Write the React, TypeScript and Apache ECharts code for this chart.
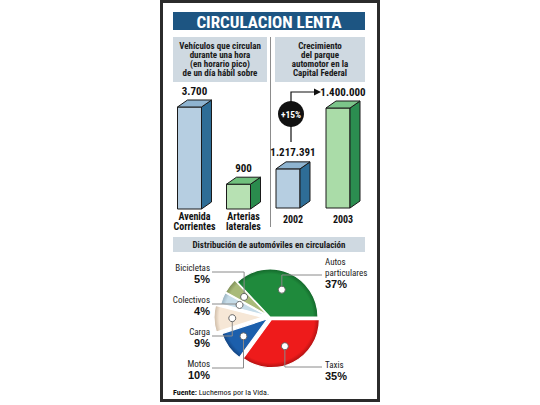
import React, { useEffect, useRef } from "react";
import * as echarts from "echarts";

// ---------- data ----------
const TITLE = "CIRCULACION LENTA";
const leftSubtitle = ["Vehículos que circulan", "durante una hora", "(en horario pico)", "de un día hábil sobre"];
const rightSubtitle = ["Crecimiento", "del parque", "automotor en la", "Capital Federal"];
const streetCategories = ["Avenida\nCorrientes", "Arterias\nlaterales"];
const streetValues = [3700, 900];
const yearCategories = ["2002", "2003"];
const fleetValues = [1217391, 1400000];
const pieTitle = "Distribución de automóviles en circulación";
const pieNames = ["Taxis", "Motos", "Carga", "Colectivos", "Bicicletas", "Autos particulares"];
const pieValues = [35, 10, 9, 4, 5, 37];
const sourceLabel = "Fuente:";
const sourceText = " Luchemos por la Vida.";

// ---------- styles ----------
const NARROW = "'Liberation Sans Narrow', 'Arial Narrow', 'Roboto Condensed', 'Liberation Sans', sans-serif";
const BLUE = { front: "#b6cee1", side: "#2e6d96", top: "#8fb4d0" };
const GREEN_L = { front: "#b7e1b3", side: "#2a8b4d", top: "#70c07d" };
const GREEN_R = { front: "#aadca8", side: "#2b8d50", top: "#7cc58a" };
const pieColors = ["#ee1b1b", "#1c5fac", "#f6e7d6", "#c6dce8", "#a9ba79", "#1f8a3c"];
const pieDark = ["#8a0c0c", "#0c3163", "#b39f88", "#7b95a6", "#627140", "#0d5120"];
const explode = [3, 3, 8, 3, 3, 0];
const PIE_C = [270, 317];
const PIE_R = 48;

const fmt = (n: number) => String(Math.round(n)).replace(/\B(?=(\d{3})+(?!\d))/g, ".");

function bar3d(palettes: any[], yMin: number) {
  return (params: any, api: any) => {
    const idx = api.value(0);
    const val = api.value(1);
    const top = api.coord([idx, val]);
    const base = api.coord([idx, yMin]);
    const bw = 24, d = 10, dy = 7;
    const x0 = top[0] - (bw + d) / 2;
    const x1 = x0 + bw;
    const yt = top[1], yb = base[1];
    const p = palettes[idx];
    const stroke = { stroke: "#1a1a1a", lineWidth: 1 };
    return {
      type: "group",
      children: [
        { type: "rect", shape: { x: x0, y: yt, width: bw, height: yb - yt }, style: { fill: p.front, ...stroke } },
        { type: "polygon", shape: { points: [[x1, yt], [x1 + d, yt - dy], [x1 + d, yb - dy], [x1, yb]] }, style: { fill: p.side, ...stroke } },
        { type: "polygon", shape: { points: [[x0, yt], [x0 + d, yt - dy], [x1 + d, yt - dy], [x1, yt]] }, style: { fill: p.top, ...stroke } },
        {
          type: "text",
          style: {
            text: fmt(val), x: x0 + (bw + d) / 2, y: yt - dy - 9, align: "center", verticalAlign: "middle",
            fontFamily: NARROW, fontWeight: "bold", fontSize: 11, fill: "#111",
          },
        },
      ],
    };
  };
}

export default function App() {
  const ref = useRef<HTMLDivElement>(null);
  useEffect(() => {
    document.body.style.margin = "0";
    const chart = echarts.init(ref.current!, null, { renderer: "svg" });
    const total = pieValues.reduce((a, b) => a + b, 0);
    const [cx, cy] = PIE_C;

    // leader geometry computed from data
    let start = 0;
    const items = pieValues.map((v, i) => {
      const span = (v / total) * 360;
      const mid = ((start + span / 2) * Math.PI) / 180;
      start += span;
      const ux = Math.cos(mid), uy = Math.sin(mid);
      const rr = explode[i] + PIE_R * 0.62;
      return { i, ux, uy, dx: cx + ux * rr, dy: cy + uy * rr };
    });
    const left = items.filter((it) => it.ux < 0).sort((a, b) => a.dy - b.dy);
    const right = items.filter((it) => it.ux >= 0).sort((a, b) => a.dy - b.dy);
    const g: any[] = [];
    const lineStyle = { stroke: "#8a8a8a", lineWidth: 1, fill: "none" };
    left.forEach((it, k) => {
      const ny = 268 + 32 * k;
      const ey = ny + 4;
      g.push({ type: "polyline", z: 100, shape: { points: [[212, ey], [it.dx, ey], [it.dx, it.dy]] }, style: lineStyle });
      g.push({ type: "circle", z: 101, shape: { cx: it.dx, cy: it.dy, r: 3.5 }, style: { fill: "#fff", stroke: "#666", lineWidth: 1 } });
      g.push({ type: "text", z: 100, style: { text: pieNames[it.i], x: 210, y: ny, align: "right", verticalAlign: "middle", fontFamily: NARROW, fontSize: 9, fill: "#222" } });
      g.push({ type: "text", z: 100, style: { text: pieValues[it.i] + "%", x: 210, y: ny + 11, align: "right", verticalAlign: "middle", fontFamily: "'Liberation Sans', sans-serif", fontWeight: "bold", fontSize: 11, fill: "#111" } });
    });
    const rightNameY = [262, 365];
    right.forEach((it, k) => {
      const ny = rightNameY[k];
      const name = pieNames[it.i];
      const lines = name.length > 10 ? name.split(" ") : [name];
      const lastY = ny + (lines.length - 1) * 11;
      const ey = lastY + 2;
      g.push({ type: "polyline", z: 100, shape: { points: [[it.dx, it.dy], [it.dx, ey], [322, ey]] }, style: lineStyle });
      g.push({ type: "circle", z: 101, shape: { cx: it.dx, cy: it.dy, r: 3.5 }, style: { fill: "#fff", stroke: "#666", lineWidth: 1 } });
      lines.forEach((ln, j) => {
        g.push({ type: "text", z: 100, style: { text: ln, x: 325, y: ny + j * 11, align: "left", verticalAlign: "middle", fontFamily: NARROW, fontSize: 9, fill: "#222" } });
      });
      g.push({ type: "text", z: 100, style: { text: pieValues[it.i] + "%", x: 325, y: lastY + 11, align: "left", verticalAlign: "middle", fontFamily: "'Liberation Sans', sans-serif", fontWeight: "bold", fontSize: 11, fill: "#111" } });
    });

    const growth = Math.round((fleetValues[1] / fleetValues[0] - 1) * 100);

    const pieColor = (i: number) => ({
      type: "radial", x: cx, y: cy, r: PIE_R + 3, global: true,
      colorStops: [{ offset: 0, color: pieColors[i] }, { offset: 0.84, color: pieColors[i] }, { offset: 1, color: pieDark[i] }],
    });

    const boxFill = "#cfd9e1";
    const graphic: any[] = [
      { type: "rect", z: 0, shape: { x: 161.5, y: 1.5, width: 217, height: 399 }, style: { fill: "none", stroke: "#2b2b2b", lineWidth: 3 } },
      { type: "rect", z: 0, shape: { x: 173, y: 12, width: 192, height: 18 }, style: { fill: "#1d5582" } },
      { type: "text", z: 1, style: { text: TITLE, x: 269, y: 21.5, align: "center", verticalAlign: "middle", fontFamily: NARROW, fontWeight: "bold", fontSize: 17, fill: "#fff" } },
      { type: "rect", z: 0, shape: { x: 173, y: 37, width: 94, height: 45 }, style: { fill: boxFill } },
      { type: "rect", z: 0, shape: { x: 275, y: 37, width: 90, height: 45 }, style: { fill: boxFill } },
      { type: "line", z: 0, shape: { x1: 270.5, y1: 37, x2: 270.5, y2: 227 }, style: { stroke: "#8c8c8c", lineWidth: 1 } },
      { type: "text", z: 1, style: { text: leftSubtitle.join("\n"), x: 220, y: 41.5, align: "center", verticalAlign: "top", lineHeight: 9, fontFamily: NARROW, fontWeight: "bold", fontSize: 9, fill: "#1a1a1a" } },
      { type: "text", z: 1, style: { text: rightSubtitle.join("\n"), x: 320, y: 41.5, align: "center", verticalAlign: "top", lineHeight: 9, fontFamily: NARROW, fontWeight: "bold", fontSize: 9, fill: "#1a1a1a" } },
      { type: "rect", z: 0, shape: { x: 173, y: 237, width: 192, height: 15 }, style: { fill: boxFill } },
      { type: "text", z: 1, style: { text: pieTitle, x: 269, y: 244.5, align: "center", verticalAlign: "middle", fontFamily: NARROW, fontWeight: "bold", fontSize: 9, fill: "#1a1a1a" } },
      // growth annotation
      { type: "polyline", z: 5, shape: { points: [[291, 142], [291, 92], [316, 92]] }, style: { stroke: "#111", lineWidth: 1.2, fill: "none" } },
      { type: "polygon", z: 5, shape: { points: [[314, 88.5], [321, 92], [314, 95.5]] }, style: { fill: "#111" } },
      { type: "circle", z: 6, shape: { cx: 291, cy: 114, r: 13 }, style: { fill: "#111" } },
      { type: "text", z: 7, style: { text: "+" + growth + "%", x: 291, y: 114, align: "center", verticalAlign: "middle", fontFamily: NARROW, fontWeight: "bold", fontSize: 9.5, fill: "#fff" } },
      {
        type: "text", z: 1,
        style: {
          text: "{b|" + sourceLabel + "}{r|" + sourceText + "}", x: 173, y: 392, align: "left", verticalAlign: "middle",
          rich: { b: { fontFamily: NARROW, fontWeight: "bold", fontSize: 8, fill: "#111" }, r: { fontFamily: NARROW, fontSize: 8, fill: "#111" } },
        },
      },
      ...g,
    ];

    const catLabel = (margin: number) => ({
      interval: 0, margin, fontFamily: NARROW, fontWeight: "bold", fontSize: 10, lineHeight: 9.5, color: "#111",
    });

    const pieData = (visible: (i: number) => boolean, sel: (i: number) => boolean) =>
      pieValues.map((v, i) => ({
        name: pieNames[i], value: v, selected: sel(i),
        itemStyle: { color: pieColor(i) as any, opacity: visible(i) ? 1 : 0 },
      }));

    chart.setOption({
      animation: false,
      graphic,
      grid: [
        { left: 170, top: 107, width: 98, height: 102 },
        { left: 268, top: 108, width: 100, height: 100 },
      ],
      xAxis: [
        { type: "category", gridIndex: 0, data: streetCategories, axisLine: { show: false }, axisTick: { show: false }, axisLabel: catLabel(3) },
        { type: "category", gridIndex: 1, data: yearCategories, axisLine: { show: false }, axisTick: { show: false }, axisLabel: catLabel(7) },
      ],
      yAxis: [
        { type: "value", gridIndex: 0, min: 0, max: 3700, show: false },
        { type: "value", gridIndex: 1, min: 1100000, max: 1400000, show: false },
      ],
      series: [
        { type: "custom", xAxisIndex: 0, yAxisIndex: 0, data: streetValues.map((v, i) => [i, v]), renderItem: bar3d([BLUE, GREEN_L], 0), silent: true },
        { type: "custom", xAxisIndex: 1, yAxisIndex: 1, data: fleetValues.map((v, i) => [i, v]), renderItem: bar3d([BLUE, GREEN_R], 1100000), silent: true },
        {
          type: "pie", center: PIE_C, radius: PIE_R, startAngle: 0, clockwise: true, silent: true,
          selectedMode: "multiple", selectedOffset: 3, label: { show: false }, labelLine: { show: false },
          itemStyle: { borderColor: "#fff", borderWidth: 1.2 },
          data: pieData((i) => explode[i] !== 8, (i) => explode[i] === 3),
        },
        {
          type: "pie", center: PIE_C, radius: PIE_R, startAngle: 0, clockwise: true, silent: true,
          selectedMode: "multiple", selectedOffset: 8, label: { show: false }, labelLine: { show: false },
          itemStyle: { borderColor: "#fff", borderWidth: 1.2 },
          data: pieData((i) => explode[i] === 8, (i) => explode[i] === 8),
        },
      ],
    });
    return () => chart.dispose();
  }, []);
  return <div ref={ref} style={{ width: 540, height: 405 }} />;
}
